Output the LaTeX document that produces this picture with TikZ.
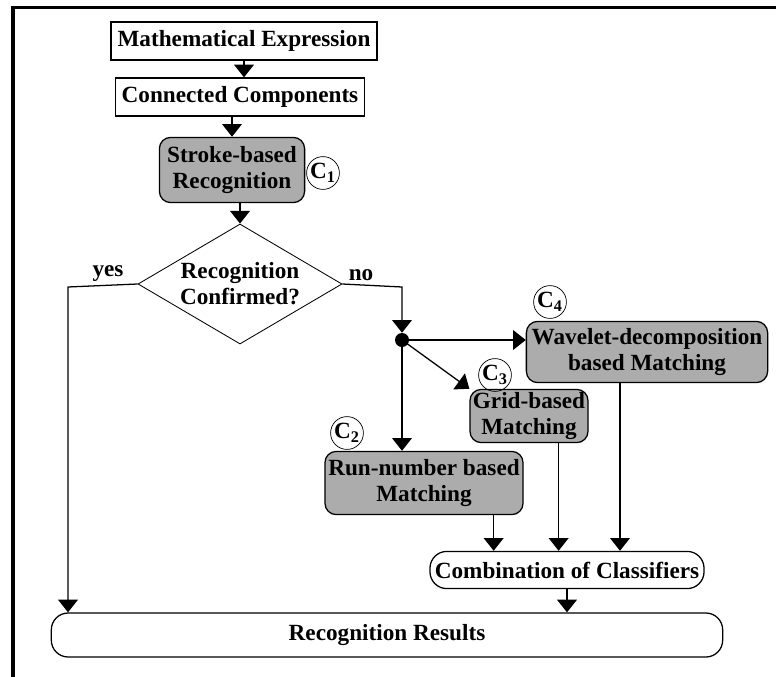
\documentclass[tikz,border=0pt]{standalone}
\usepackage{fontspec}
\setmainfont{Liberation Serif}
\usetikzlibrary{shapes.geometric,arrows.meta}

\begin{document}
\begin{tikzpicture}[x=0.025cm,y=-0.025cm,
	font=\fontsize{16.5}{18.5}\selectfont\bfseries,
	box/.style={draw,line width=0.9pt,inner sep=0pt,align=center},
	clf/.style={box,rounded corners=8pt,fill=gray!65},
	tag/.style={draw,circle,line width=0.5pt,minimum size=0.82cm,inner sep=0pt},
	arr/.style={line width=0.9pt,-{Triangle[width=14pt,length=9pt]}}]
	\useasboundingbox (0,0) rectangle (776,677);
	\draw[line width=2.4pt] (776,7.5) -- (13,7.5) -- (13,677);
	% upper chain
	\node[box,minimum width=6.65cm,minimum height=0.95cm] (expr) at (244,41) {Mathematical Expression};
	\node[box,minimum width=6.23cm,minimum height=0.95cm] (conn) at (240,97) {Connected Components};
	\node[clf,minimum width=3.63cm,minimum height=1.63cm] (stroke) at (232,170) {Stroke-based\\Recognition};
	\node[tag] (c1) at (323,173) {C\textsubscript{1}};
	\node[diamond,draw,line width=0.6pt,inner sep=0pt,aspect=1.68,minimum width=5.1cm,minimum height=3cm,align=center] (dia) at (240,284) {Recognition\\Confirmed?};
	\node (yeslbl) at (108,274) {yes};
	\node (nolbl) at (361,275) {no};
	\draw[arr] (expr.south) -- (expr.south |- conn.north);
	\draw[arr] (conn.south -| stroke.north) -- (stroke.north);
	\draw[arr] (stroke.south -| dia.north) -- (dia.north);
	% classifiers
	\node[circle,fill,inner sep=0pt,minimum size=0.35cm] (dot) at (402,340) {};
	\node[clf,minimum width=6.03cm,minimum height=1.53cm] (wave) at (647,352) {Wavelet-decomposition\\based Matching};
	\node[tag] (c4) at (550,302) {C\textsubscript{4}};
	\node[clf,minimum width=2.95cm,minimum height=1.33cm] (grid) at (529,416) {Grid-based\\Matching};
	\node[tag] (c3) at (495,375) {C\textsubscript{3}};
	\node[clf,minimum width=4.95cm,minimum height=1.58cm] (run) at (424,483) {Run-number based\\Matching};
	\node[tag] (c2) at (347,433) {C\textsubscript{2}};
	\node[box,rounded corners=12pt,minimum width=6.85cm,minimum height=0.93cm] (comb) at (567,570) {Combination of Classifiers};
	\node[box,rounded corners=12pt,minimum width=16.78cm,minimum height=1.1cm] (res) at (387,635) {Recognition Results};
	\coordinate (yes) at (68,287);
	\coordinate (no) at (402,287);
	\draw[arr] (dia.west) -- (yes) -- (yes |- res.north);
	\draw[arr] (dia.east) -- (no) -- (dot.north);
	\draw[arr] (dot.center) -- (dot -| wave.west);
	\draw[arr] (dot.center) -- (grid.north west);
	\draw[arr] (dot.center) -- (dot |- run.north);
	\coordinate (r1) at ([xshift=-0.75cm]run.south east);
	\coordinate (r2) at ([xshift=-0.75cm]grid.south east);
	\coordinate (r3) at ([xshift=-0.675cm]wave.south);
	\draw[arr] (r1) -- (r1 |- comb.north);
	\draw[arr] (r2) -- (r2 |- comb.north);
	\draw[arr] (r3) -- (r3 |- comb.north);
	\draw[arr] (comb.south) -- (comb.south |- res.north);
\end{tikzpicture}
\end{document}
